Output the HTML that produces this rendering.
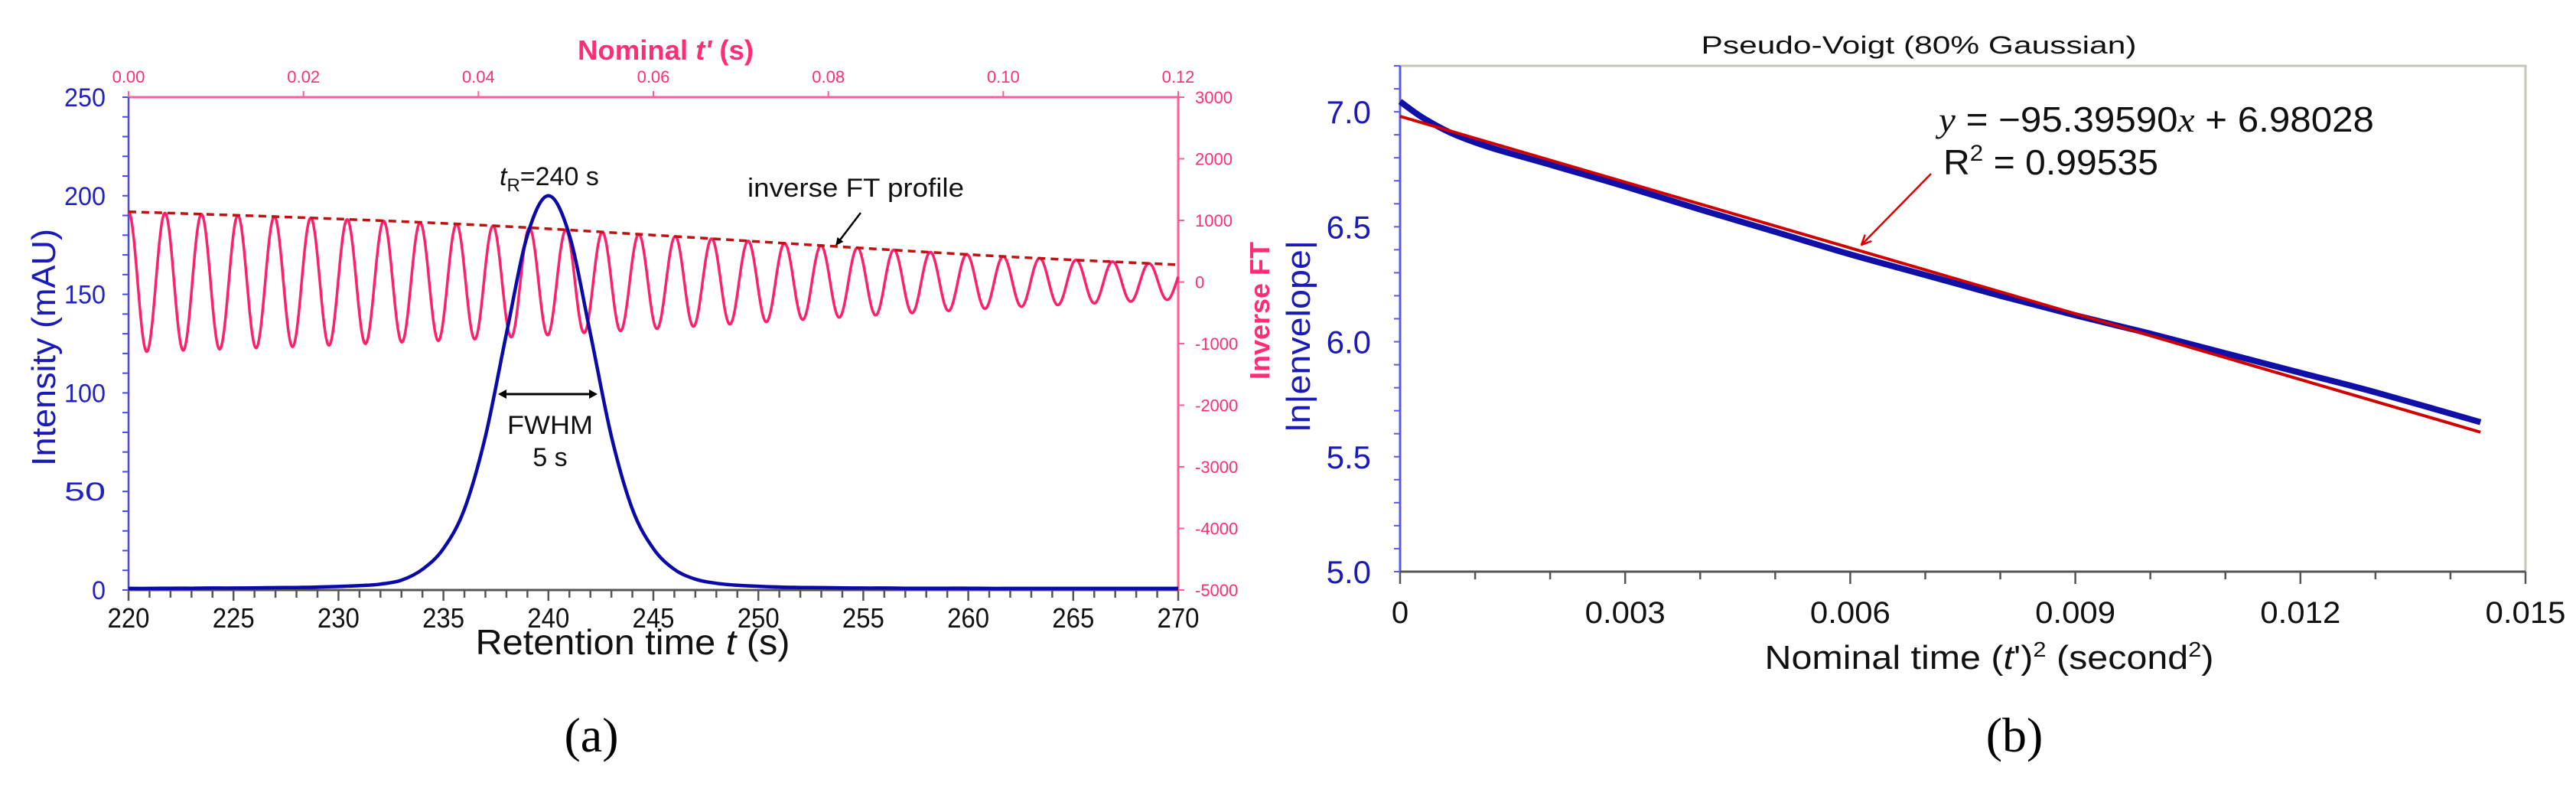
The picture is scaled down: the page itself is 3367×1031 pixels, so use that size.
<!DOCTYPE html>
<html><head><meta charset="utf-8">
<style>
html,body{margin:0;padding:0;background:#fff;}
svg{display:block;font-family:"Liberation Sans",Arial,sans-serif;}
</style></head>
<body>
<svg id="fig" width="3367" height="1031" viewBox="0 0 3367 1031" xmlns="http://www.w3.org/2000/svg">
<defs>
<marker id="ahK" markerWidth="10" markerHeight="10" refX="9" refY="5" orient="auto" markerUnits="userSpaceOnUse"><path d="M0,0 L10,5 L0,10 z" fill="#000"/></marker>
<marker id="ahR" markerWidth="14" markerHeight="14" refX="13" refY="7" orient="auto" markerUnits="userSpaceOnUse"><path d="M0,1 L13,7 L0,13" fill="none" stroke="#e00000" stroke-width="2.5"/></marker>
</defs>
<g id="panelA"></g>
<g id="panelB"></g>

<text x="870" y="78" text-anchor="middle" font-size="36" font-weight="bold" fill="#ff2d78" textLength="230" lengthAdjust="spacingAndGlyphs">Nominal <tspan font-style="italic">t'</tspan> (s)</text>
<text transform="translate(72,454) rotate(-90)" text-anchor="middle" font-size="44" fill="#1a1ab8" textLength="310" lengthAdjust="spacingAndGlyphs">Intensity (mAU)</text>
<text transform="translate(1659,406) rotate(-90)" text-anchor="middle" font-size="36" font-weight="bold" fill="#ff2d78" textLength="180" lengthAdjust="spacingAndGlyphs">Inverse FT</text>
<text x="827" y="855" text-anchor="middle" font-size="46" fill="#111" textLength="411" lengthAdjust="spacingAndGlyphs">Retention time <tspan font-style="italic">t</tspan> (s)</text>
<text x="773" y="982" text-anchor="middle" font-size="64" font-family="Liberation Serif, serif" fill="#000">(a)</text>
<text x="653" y="242" font-size="34" fill="#111"><tspan font-style="italic">t</tspan><tspan font-size="24" dy="8">R</tspan><tspan dy="-8">=240 s</tspan></text>
<text x="977" y="257" font-size="34" fill="#111" textLength="283" lengthAdjust="spacingAndGlyphs">inverse FT profile</text>
<line x1="1125" y1="278" x2="1093" y2="320" stroke="#000" stroke-width="2.5" marker-end="url(#ahK)"/>
<line x1="660" y1="515" x2="772" y2="515" stroke="#000" stroke-width="3"/>
<path d="M651,515 L662,509 L662,521 z M781,515 L770,509 L770,521 z" fill="#000"/>
<text x="719" y="567" text-anchor="middle" font-size="34" fill="#111" textLength="112" lengthAdjust="spacingAndGlyphs">FWHM</text>
<text x="719" y="609" text-anchor="middle" font-size="34" fill="#111">5 s</text>

<text x="2508" y="70" text-anchor="middle" font-size="32" fill="#111" textLength="569" lengthAdjust="spacingAndGlyphs">Pseudo-Voigt (80% Gaussian)</text>
<text transform="translate(1712,439) rotate(-90)" text-anchor="middle" font-size="44" fill="#1a1ab8" textLength="250" lengthAdjust="spacingAndGlyphs">ln|envelope|</text>
<text x="2600" y="874" text-anchor="middle" font-size="44" fill="#111" textLength="587" lengthAdjust="spacingAndGlyphs">Nominal time (<tspan font-style="italic">t</tspan>')<tspan font-size="28" dy="-16">2</tspan><tspan dy="16"> (second</tspan><tspan font-size="28" dy="-16">2</tspan><tspan dy="16">)</tspan></text>
<text x="2633" y="982" text-anchor="middle" font-size="64" font-family="Liberation Serif, serif" fill="#000">(b)</text>
<text x="2534" y="172" font-size="46" fill="#111" textLength="569" lengthAdjust="spacingAndGlyphs"><tspan font-style="italic" font-family="Liberation Serif, serif">y</tspan> = −95.39590<tspan font-style="italic" font-family="Liberation Serif, serif">x</tspan> + 6.98028</text>
<text x="2540" y="228" font-size="46" fill="#111" textLength="281" lengthAdjust="spacingAndGlyphs">R<tspan font-size="30" dy="-18">2</tspan><tspan dy="18"> = 0.99535</tspan></text>
<line x1="2524" y1="227" x2="2433" y2="320" stroke="#e00000" stroke-width="2.5" marker-end="url(#ahR)"/>
</svg>
<script>
// ---------- Panel A data ----------
const peakTimes = [220,221,222,223,224,225,226,227,228,229,230,231,232,233,234,235,236,237,238,239,240,241,242,243,244,245,246,247,248,249,250,251,252,253,254,255,256,257,258,259,260,261,262,263,264,265,266,267,268,269,270];
const peakValues = [0.8,0.8,0.9,0.9,1.0,1.0,1.1,1.2,1.3,1.5,1.8,2.2,3.0,5.0,10.5,21,41,78,130,180,200,180,130,78,41,21,10.5,5.5,3.4,2.4,1.9,1.5,1.3,1.2,1.1,1.0,1.0,0.9,0.9,0.9,0.9,0.8,0.8,0.8,0.8,0.8,0.8,0.8,0.8,0.8,0.8];
const envTprime = [0,0.02,0.04,0.06,0.08,0.10,0.12];
const envValues = [1140,1045,925,762,585,415,280];
const oscFreq = [240];
const xTicksA = [220,225,230,235,240,245,250,255,260,265,270];
const yTicksA = [0,50,100,150,200,250];
const topTicks = ["0.00","0.02","0.04","0.06","0.08","0.10","0.12"];
const rightTicks = [3000,2000,1000,0,-1000,-2000,-3000,-4000,-5000];

// ---------- Panel B data ----------
const lnX = [0,0.0003,0.0007,0.0012,0.002,0.003,0.004,0.005,0.006,0.007,0.008,0.009,0.010,0.011,0.012,0.013,0.0144];
const lnY = [7.045,6.975,6.905,6.845,6.77,6.675,6.575,6.478,6.38,6.29,6.20,6.115,6.035,5.95,5.865,5.78,5.65];
const fitSlope = [-95.3959];
const fitIntercept = [6.98028];
const xTicksB = ["0","0.003","0.006","0.009","0.012","0.015"];
const yTicksB = ["5.0","5.5","6.0","6.5","7.0"];

const NS="http://www.w3.org/2000/svg";
function mk(parent,tag,attrs){const e=document.createElementNS(NS,tag);for(const k in attrs)e.setAttribute(k,attrs[k]);parent.appendChild(e);return e;}
function spline(pts){let d="M"+pts[0][0].toFixed(1)+","+pts[0][1].toFixed(1);
 for(let i=0;i<pts.length-1;i++){const p0=pts[Math.max(0,i-1)],p1=pts[i],p2=pts[i+1],p3=pts[Math.min(pts.length-1,i+2)];
 const c1=[p1[0]+(p2[0]-p0[0])/6,p1[1]+(p2[1]-p0[1])/6],c2=[p2[0]-(p3[0]-p1[0])/6,p2[1]-(p3[1]-p1[1])/6];
 d+=" C"+c1[0].toFixed(1)+","+c1[1].toFixed(1)+" "+c2[0].toFixed(1)+","+c2[1].toFixed(1)+" "+p2[0].toFixed(1)+","+p2[1].toFixed(1);}return d;}

// ---- Panel A ----
const A=document.getElementById('panelA');
const aL=168,aR=1540,aT=127,aB=771;
const xA=t=>aL+(t-220)/50*(aR-aL);
const yA=v=>aB-v/250*(aB-aT);
const xTop=tp=>aL+tp/0.12*(aR-aL);
const yR=v=>aB-(v+5000)/8000*(aB-aT);

let e=mk(A,'line',{x1:aL,y1:aT,x2:aR,y2:aT,stroke:'#ff5c9a','stroke-width':3});


e=mk(A,'line',{x1:aR,y1:aT,x2:aR,y2:aB,stroke:'#ff5c9a','stroke-width':3});


e=mk(A,'line',{x1:aL,y1:aT,x2:aL,y2:aB,stroke:'#4a4ae0','stroke-width':2.5});


e=mk(A,'line',{x1:aL,y1:aB,x2:aR,y2:aB,stroke:'#555','stroke-width':3});


for(let t=220;t<=270;t++){const maj=(t%5===0);mk(A,'line',{x1:xA(t),y1:aB,x2:xA(t),y2:aB+(maj?14:10),stroke:'#555','stroke-width':2.5});}
for(let v=0;v<=250;v+=10){mk(A,'line',{x1:aL-8,y1:yA(v),x2:aL,y2:yA(v),stroke:'#4a4ae0','stroke-width':2});}
xTicksA.forEach(t=>{const tx=mk(A,'text',{x:xA(t),y:820,'text-anchor':'middle','font-size':36,fill:'#111',textLength:55,lengthAdjust:'spacingAndGlyphs'});tx.textContent=t;
 
 });
yTicksA.forEach(v=>{const tx=mk(A,'text',{x:138,y:yA(v)+12,'text-anchor':'end','font-size':34,fill:'#2222c0',textLength:v===0?18:54,lengthAdjust:'spacingAndGlyphs'});tx.textContent=v;
 
 });
topTicks.forEach(s=>{const x=xTop(parseFloat(s));mk(A,'line',{x1:x,y1:aT,x2:x,y2:aT-8,stroke:'#ff5c9a','stroke-width':2});
 const tx=mk(A,'text',{x:x,y:108,'text-anchor':'middle','font-size':22,fill:'#ff2d78'});tx.textContent=s;
 
 });
rightTicks.forEach(v=>{mk(A,'line',{x1:aR,y1:yR(v),x2:aR+8,y2:yR(v),stroke:'#ff5c9a','stroke-width':2});
 const tx=mk(A,'text',{x:1562,y:yR(v)+8,'font-size':22,fill:'#ff2d78'});tx.textContent=v;
 
 });

function envAt(tp){for(let i=0;i<envTprime.length-1;i++){if(tp<=envTprime[i+1]){const f=(tp-envTprime[i])/(envTprime[i+1]-envTprime[i]);return envValues[i]+f*(envValues[i+1]-envValues[i]);}}return envValues[envValues.length-1];}
let d="";for(let i=0;i<=3000;i++){const tp=0.12*i/3000;const v=envAt(tp)*Math.cos(2*Math.PI*oscFreq[0]*tp);d+=(i?"L":"M")+xTop(tp).toFixed(1)+","+yR(v).toFixed(1);}
e=mk(A,'path',{d:d,fill:'none',stroke:'#ff1f6a','stroke-width':3.5});


e=mk(A,'path',{d:spline(peakTimes.map((t,i)=>[xA(t),yA(peakValues[i])])),fill:'none',stroke:'#0a0aa8','stroke-width':4.5});


e=mk(A,'path',{d:spline(envTprime.map((t,i)=>[xTop(t),yR(envValues[i])])),fill:'none',stroke:'#c01010','stroke-width':3.5,'stroke-dasharray':'10,7'});



// ---- Panel B ----
const B=document.getElementById('panelB');
const bL=1830,bR=3301,bT=86,bB=747;
const xB=v=>bL+v/0.015*(bR-bL);
const yB=v=>bB-(v-5.0)/2.2*(bB-bT);
e=mk(B,'rect',{x:bL,y:bT,width:bR-bL,height:bB-bT,fill:'none',stroke:'#c8c4b8','stroke-width':3});


e=mk(B,'line',{x1:bL,y1:bT,x2:bL,y2:bB,stroke:'#5a5ae8','stroke-width':3});


e=mk(B,'line',{x1:bL,y1:bB,x2:bR,y2:bB,stroke:'#555','stroke-width':3});


for(let k=0;k<=15;k++){const x=xB(k*0.001);mk(B,'line',{x1:x,y1:bB,x2:x,y2:bB+(k%3===0?16:10),stroke:'#555','stroke-width':2.5});}
for(let k=0;k<=22;k++){const y=yB(5+k*0.1);mk(B,'line',{x1:bL-8,y1:y,x2:bL,y2:y,stroke:'#5a5ae8','stroke-width':2});}
xTicksB.forEach(s=>{const tx=mk(B,'text',{x:xB(parseFloat(s)),y:814,'text-anchor':'middle','font-size':40,fill:'#111'});
 if(s!=="0"){tx.setAttribute('textLength',105);tx.setAttribute('lengthAdjust','spacingAndGlyphs');}
 tx.textContent=s;
 
 });
yTicksB.forEach(s=>{const tx=mk(B,'text',{x:1792,y:yB(parseFloat(s))+15,'text-anchor':'end','font-size':42,fill:'#1a1ab8'});tx.textContent=s;
 
 });
e=mk(B,'path',{d:spline(lnX.map((x,i)=>[xB(x),yB(lnY[i])])),fill:'none',stroke:'#1010a8','stroke-width':8});


const fx0=0,fx1=lnX[lnX.length-1];
e=mk(B,'line',{x1:xB(fx0),y1:yB(fitIntercept[0]+fitSlope[0]*fx0),x2:xB(fx1),y2:yB(fitIntercept[0]+fitSlope[0]*fx1),stroke:'#d00000','stroke-width':4});


</script>
</body></html>
